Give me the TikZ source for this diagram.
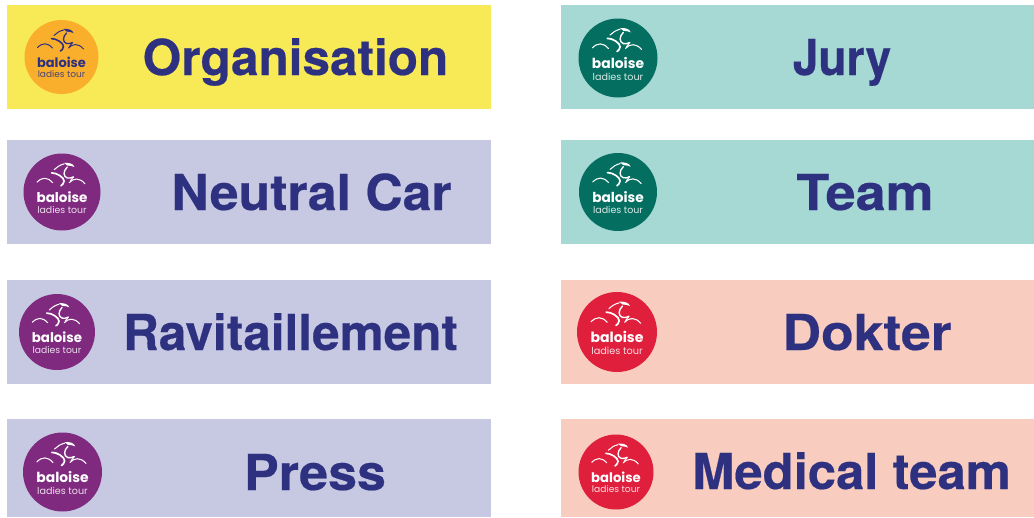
\documentclass[tikz,border=0pt]{standalone}
\usepackage{fontspec}
\setmainfont{Poppins}
\newfontfamily\labfont[BoldFeatures={FakeBold=0.4}]{TeX Gyre Heros}
\definecolor{ink}{HTML}{2E3180}
\definecolor{yel}{HTML}{F8EA57}
\definecolor{lav}{HTML}{C7C9E3}
\definecolor{mint}{HTML}{A6D8D4}
\definecolor{pink}{HTML}{F8CCBE}
\definecolor{org}{HTML}{FAAF2C}
\definecolor{pur}{HTML}{7F2A7F}
\definecolor{grn}{HTML}{046F60}
\definecolor{red}{HTML}{E01F3D}
\tikzset{
  band/.style={inner sep=0pt,outer sep=0pt,anchor=north west},
  lab/.style={text=ink,font=\labfont\fontsize{49.5}{50}\selectfont\bfseries,inner sep=0pt,anchor=base},
  ride/.style={line cap=round,line join=round,fill=none}
}
% #1 name #2 cx #3 cy #4 r #5 disc colour #6 glyph colour
\newcommand{\logo}[6]{%
\begin{scope}[shift={(#2,#3)},scale=#4/37]
\fill[#5] (0,0) circle (37);
\draw[ride,#6,line width=1pt*#4/37] (-24,-9.5) .. controls (-19,-14.5) and (-14,-14.5) .. (-9,-9);
\draw[ride,#6,line width=1pt*#4/37] (7,-9) .. controls (11,-13.5) and (17,-14) .. (22,-8);
\draw[ride,#6,line width=1pt*#4/37] (-7.5,-21.5) .. controls (-5,-24) and (-2,-26) .. (2,-27);
\draw[ride,#6,line width=1.6pt*#4/37] (-10,-18.4) .. controls (-5,-18.5) and (2,-14) .. (2,-10.5) .. controls (2,-8) and (0,-7) .. (-1,-6);
\draw[ride,#6,line width=1.3pt*#4/37] (5,-24) .. controls (1,-20) and (1,-15) .. (5,-13.5) .. controls (7,-13) and (9,-13.5) .. (11,-14.5);
\draw[ride,#6,line width=1pt*#4/37] (11,-14.5) -- (8,-10.5);
\fill[#6] (2,-28) .. controls (6,-28.5) and (11,-27.5) .. (12,-24) -- (9,-25) -- (5,-25.5) -- cycle;
\node[inner sep=0pt,anchor=base,text=#6,transform shape,font=\fontsize{13}{13}\selectfont\bfseries] (#1b) at (0,10) {baloise};
\node[inner sep=0pt,anchor=base,text=#6,opacity=.85,transform shape,font=\fontsize{9}{9}\selectfont] (#1l) at (0,20.7) {ladies tour};
\end{scope}}
\newcommand{\bandbox}[6]{\node[band,fill=#6,minimum width=#4 pt,minimum height=#5 pt] (#1) at (#2,#3) {};}
\begin{document}
\begin{tikzpicture}[x=1pt,y=-1pt]
\useasboundingbox (0,0) rectangle (1034,517);
\bandbox{a}{7}{5}{484}{104}{yel}
\bandbox{b}{7}{140}{484}{104}{lav}
\bandbox{c}{7}{280}{484}{104}{lav}
\bandbox{d}{7}{419}{484}{98}{lav}
\bandbox{e}{561}{5}{473}{104}{mint}
\bandbox{f}{561}{140}{473}{104}{mint}
\bandbox{g}{561}{280}{473}{104}{pink}
\bandbox{h}{561}{419}{473}{98}{pink}
\logo{la}{61.5}{57}{37}{org}{ink}
\logo{lb}{62}{192}{38.5}{pur}{white}
\logo{lc}{57}{332}{38}{pur}{white}
\logo{ld}{62.5}{472}{39.5}{pur}{white}
\logo{le}{618}{58}{39.5}{grn}{white}
\logo{lf}{618}{192}{39}{grn}{white}
\logo{lg}{617}{332}{40}{red}{white}
\logo{lh}{616}{472}{37.5}{red}{white}
\node[lab] (ta) at (295.5,75) {Organisation};
\node[lab] (tb) at (311.5,210) {\scalebox{1.045}[1]{Neutral Car}};
\node[lab] (tc) at (290.5,350) {Ravitaillement};
\node[lab] (td) at (315,490) {\scalebox{1.05}[1]{Press}};
\node[lab] (te) at (842,75) {\scalebox{.93}[1]{Jury}};
\node[lab] (tf) at (865,210) {\scalebox{1.09}[1]{Team}};
\node[lab] (tg) at (867,350) {\scalebox{1.08}[1]{Dokter}};
\node[lab] (th) at (851.5,489) {\scalebox{1.026}[1]{Medical team}};
\end{tikzpicture}
\end{document}
